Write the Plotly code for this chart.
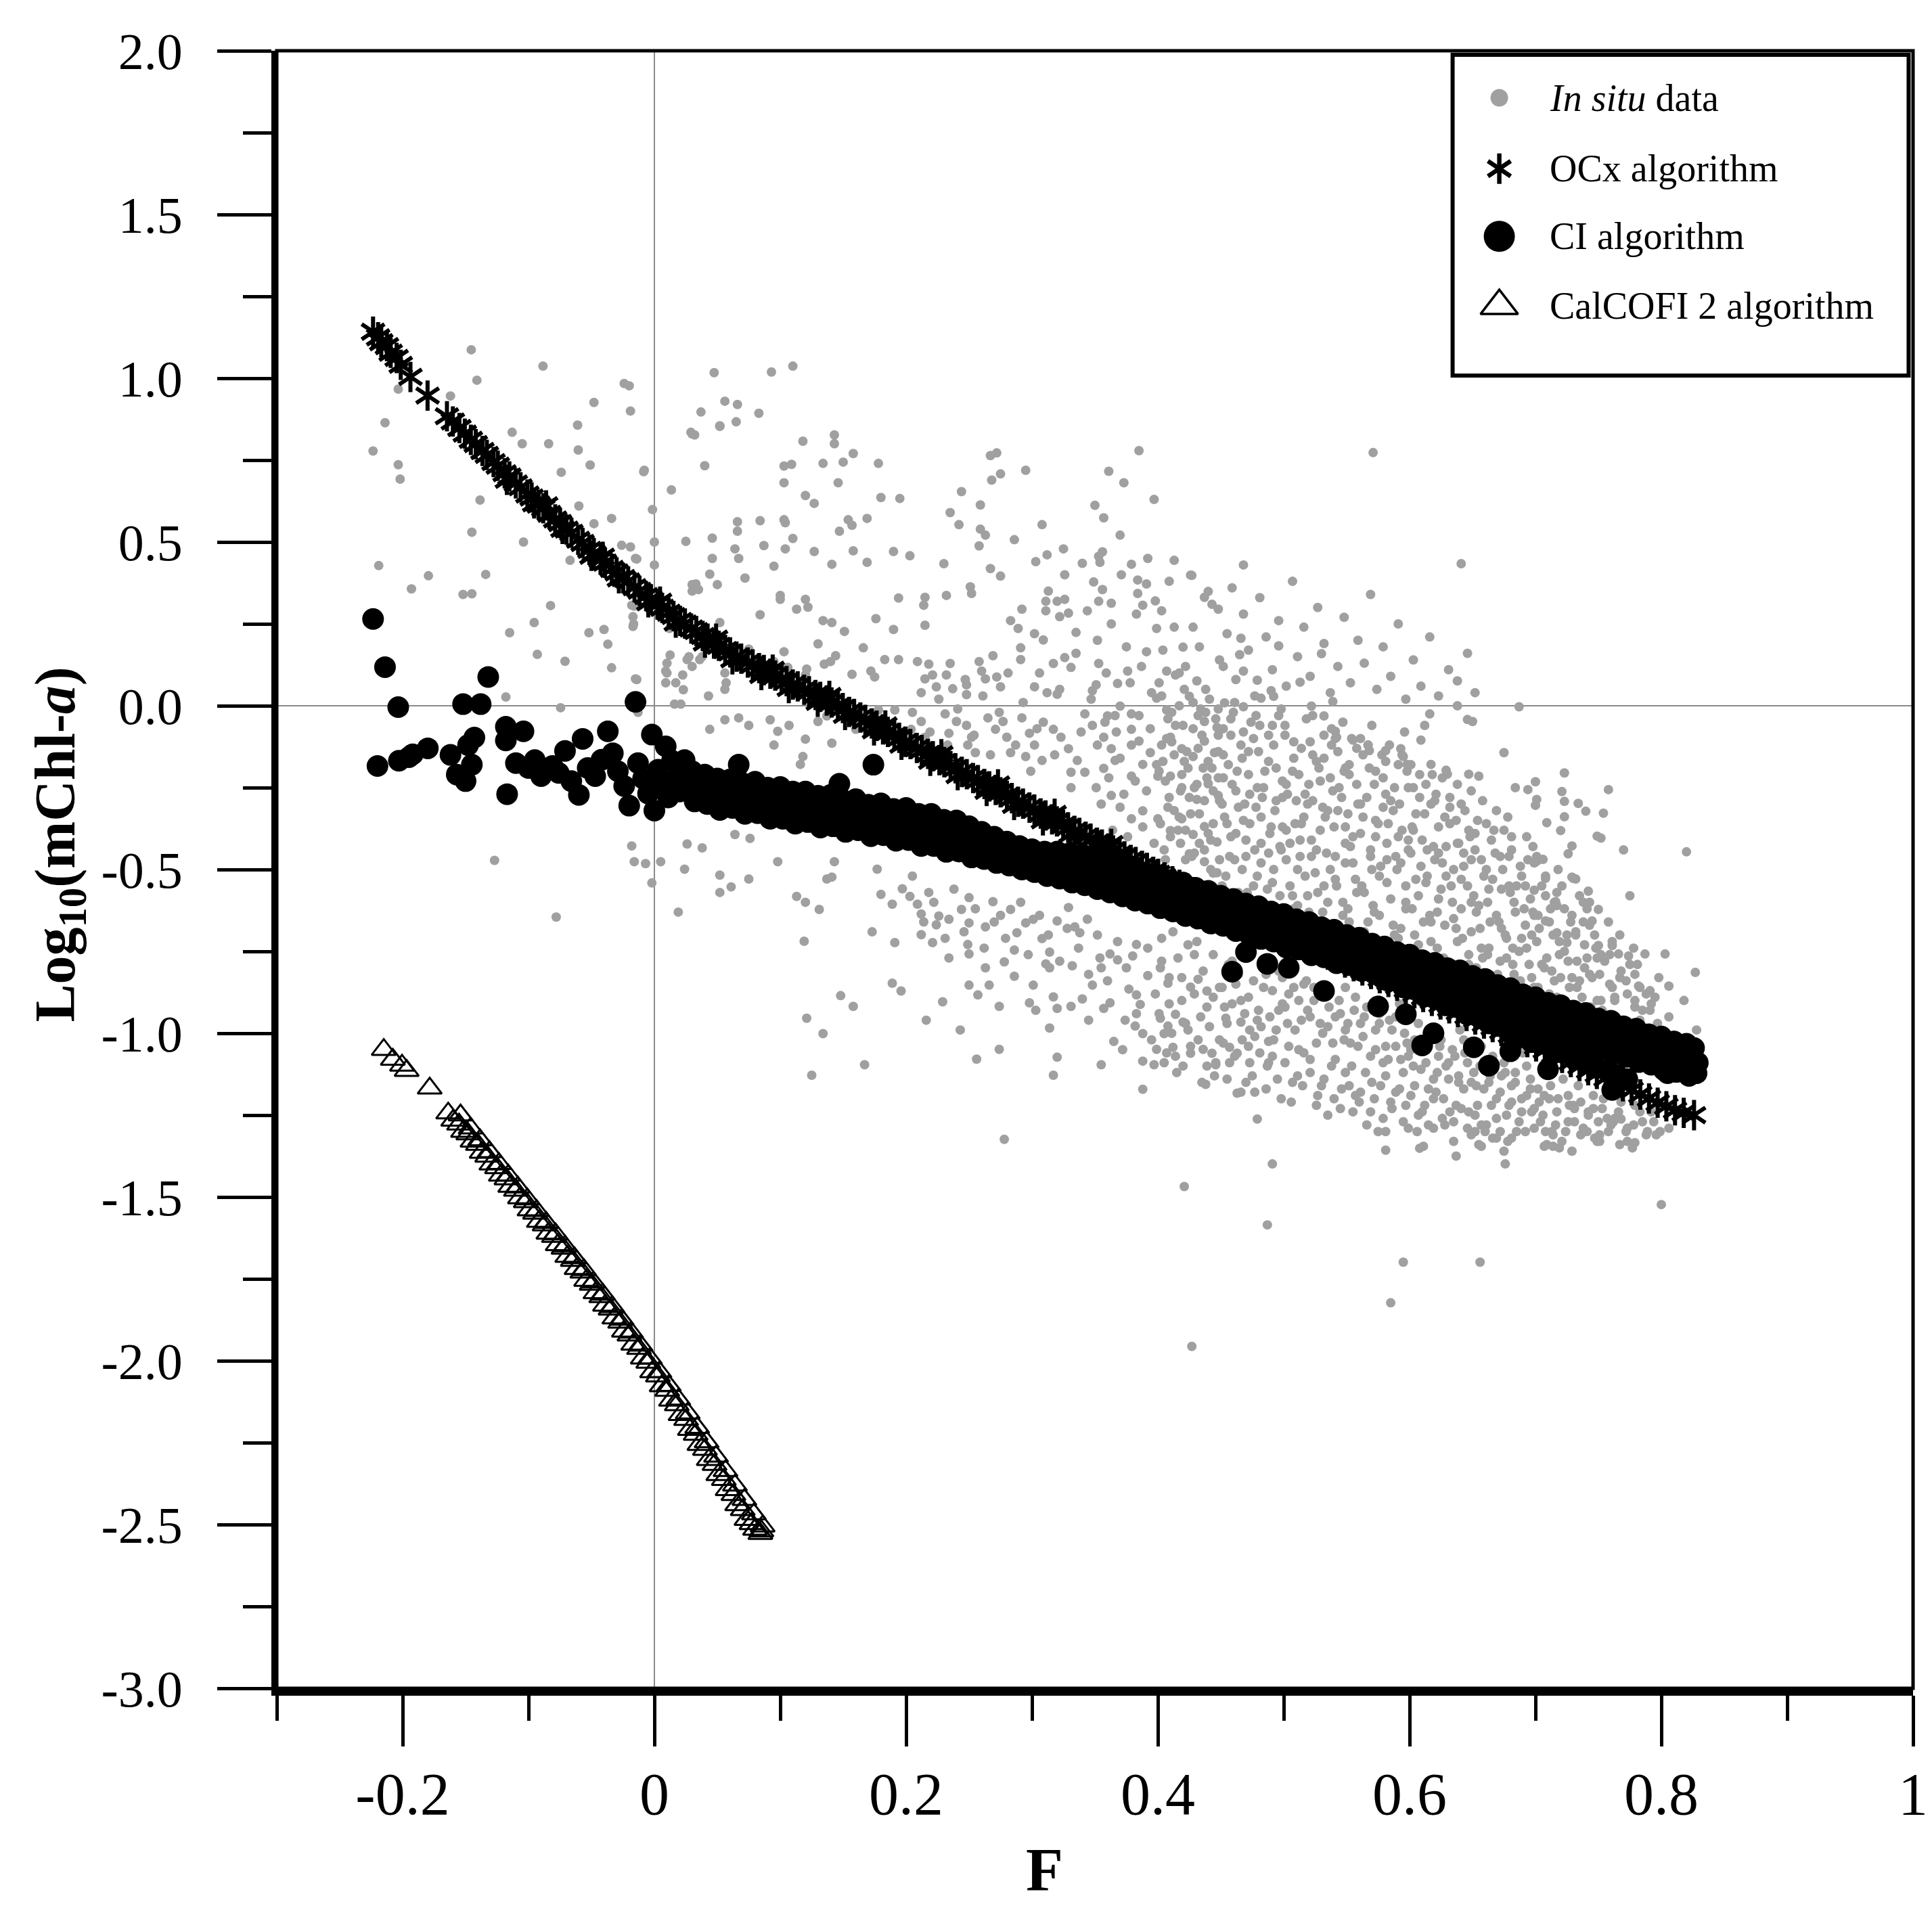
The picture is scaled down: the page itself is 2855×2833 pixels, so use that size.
import plotly.graph_objects as go

# ---------------- axes / ticks ----------------
X_RANGE = [-0.3, 1.0]
Y_RANGE = [-3.0, 2.0]
X_TICKS = [-0.2, 0.0, 0.2, 0.4, 0.6, 0.8, 1.0]
X_TICK_TEXT = ["-0.2", "0", "0.2", "0.4", "0.6", "0.8", "1"]
X_MINOR = [-0.3, -0.1, 0.1, 0.3, 0.5, 0.7, 0.9]
Y_TICKS = [-3.0, -2.5, -2.0, -1.5, -1.0, -0.5, 0.0, 0.5, 1.0, 1.5, 2.0]
Y_TICK_TEXT = ["-3.0", "-2.5", "-2.0", "-1.5", "-1.0", "-0.5", "0.0", "0.5", "1.0", "1.5", "2.0"]
Y_MINOR = [-2.75, -2.25, -1.75, -1.25, -0.75, -0.25, 0.25, 0.75, 1.25, 1.75]

SERIES_NAMES = ["<i>In situ</i> data", "OCx algorithm", "CI algorithm", "CalCOFI 2 algorithm"]
X_TITLE = "<b>F</b>"
Y_TITLE = "<b>Log<sub>10</sub>(mChl-<i>a</i>)</b>"

# ---------------- data: (F, log10 Chl) ----------------
INSITU_LEFT = [
(-0.1455,1.087),(-0.0885,1.037),(-0.141,0.994),(-0.2035,0.967),(-0.162,0.946),(-0.020,0.977),(-0.024,0.984),
(-0.048,0.926),(-0.019,0.900),(-0.214,0.864),(-0.061,0.857),(-0.113,0.835),(-0.105,0.800),(-0.084,0.800),
(-0.0605,0.781),(-0.2235,0.778),(-0.2035,0.736),(-0.051,0.735),(-0.202,0.692),(-0.074,0.713),(-0.0085,0.715),
(-0.1385,0.628),(-0.060,0.610),(-0.0015,0.599),(-0.034,0.572),(-0.048,0.556),(-0.145,0.530),(-0.104,0.500),
(0.000,0.500),(-0.026,0.490),(-0.067,0.444),(-0.014,0.448),(-0.219,0.428),(-0.1795,0.397),(-0.134,0.401),
(-0.193,0.357),(-0.152,0.340),(-0.145,0.342),(0.000,0.430),(-0.0825,0.306),(-0.016,0.304),(-0.0955,0.254),
(-0.052,0.223),(-0.040,0.233),(-0.0165,0.250),(-0.115,0.223),(-0.037,0.188),(-0.093,0.157),(-0.071,0.136),
(-0.034,0.116),(-0.014,0.080),(-0.118,0.027),(-0.0745,-0.006),(-0.013,-0.020),
(0.0475,1.017),(0.037,0.897),(0.052,0.853),(0.030,0.830),(0.056,0.930),(0.040,0.733),(0.0135,0.659),
(0.025,0.502),(0.046,0.512),(0.046,0.450),(0.050,0.370),(0.030,0.370),(0.030,0.350),(0.052,0.254),
(0.0125,0.155),(0.0275,0.150),(0.038,0.150),(0.010,0.130),(0.030,0.120),(0.010,0.100),(0.0225,0.094),
(0.056,0.100),(0.017,0.070),(0.056,0.050),(0.043,0.030),(-0.127,-0.472),(-0.078,-0.645),
]
INSITU_UPPER = [
(0.110,1.037),(0.093,1.019),(0.066,0.920),(0.083,0.893),(0.052,0.855),(0.065,0.867),(0.029,0.835),(0.032,0.827),
(-0.008,0.719),(0.118,0.808),(0.143,0.827),(0.143,0.800),(0.158,0.770),(0.134,0.740),(0.150,0.744),(0.103,0.732),
(0.109,0.737),(0.103,0.681),(0.146,0.681),(0.178,0.740),(0.120,0.642),(0.127,0.618),(0.180,0.636),(0.195,0.633),
(0.066,0.562),(0.066,0.533),(0.084,0.565),(0.103,0.568),(0.104,0.559),(0.154,0.568),(0.157,0.551),(0.147,0.533),
(0.169,0.572),(0.064,0.479),(0.087,0.489),(0.104,0.479),(0.110,0.511),(0.095,0.426),(0.067,0.450),(0.127,0.471),
(0.141,0.432),(0.158,0.473),(0.169,0.438),(0.190,0.471),(0.203,0.458),(0.230,0.434),(0.267,0.764),(0.272,0.772),
(0.295,0.719),(0.268,0.689),(0.275,0.708),(0.244,0.654),(0.259,0.613),(0.235,0.590),(0.242,0.553),(0.259,0.539),
(0.263,0.521),(0.258,0.488),(0.286,0.507),(0.308,0.553),(0.303,0.440),(0.312,0.461),(0.325,0.479),(0.361,0.716),
(0.373,0.681),(0.385,0.779),(0.397,0.630),(0.350,0.612),(0.357,0.574),(0.370,0.521),(0.340,0.435),(0.353,0.456),
(0.354,0.438),(0.379,0.432),(0.413,0.444),(0.426,0.399),(0.440,0.349),(0.437,0.331),(0.267,0.419),(0.275,0.396),
(0.251,0.363),(0.252,0.343),(0.232,0.337),(0.215,0.331),(0.214,0.307),(0.194,0.329),(0.176,0.266),(0.190,0.233),
(0.215,0.246),(0.151,0.227),(0.134,0.260),(0.141,0.254),(0.120,0.325),(0.122,0.301),(0.113,0.295),(0.100,0.337),
(0.100,0.325),(0.084,0.278),(0.033,0.372),(0.035,0.355),(0.044,0.402),(0.072,0.390),(-0.019,0.485),(-0.015,0.450),
(-0.018,0.307),(-0.017,0.272),(-0.017,0.242),(0.012,0.236),(0.026,0.141),(0.036,0.141),(0.009,0.106),(0.009,0.070),
(-0.015,0.082),(0.023,0.049),(0.016,0.005),(0.021,0.005),(0.057,0.070),(0.075,0.173),(0.103,0.165),(0.095,0.135),
(0.106,0.117),(0.120,0.094),(0.121,0.112),(0.130,0.189),(0.144,0.153),(0.140,0.135),(0.135,0.127),(0.166,0.177),
(0.157,0.096),(0.172,0.106),(0.175,0.088),(0.183,0.141),(0.194,0.141),(0.209,0.135),(0.218,0.127),(0.215,0.082),
(0.221,0.094),(0.224,0.058),(0.235,0.129),(0.232,0.094),(0.237,0.052),(0.248,0.064),(0.248,0.034),(0.258,0.135),
(0.260,0.106),(0.263,0.082),(0.269,0.153),(0.272,0.088),(0.275,0.058),(0.283,0.260),(0.289,0.236),(0.292,0.295),
(0.311,0.319),(0.311,0.290),(0.320,0.319),(0.326,0.325),(0.322,0.272),(0.329,0.283),(0.335,0.224),(0.309,0.201),
(0.291,0.177),(0.291,0.141),(0.317,0.129),(0.326,0.147),(0.331,0.117),(0.353,0.129),(0.302,0.058),(0.312,0.040),
(0.320,0.035),(0.348,0.046),(0.351,0.064),(0.368,0.068),(0.376,0.106),(0.349,0.378),(0.356,0.355),(0.353,0.319),
(0.363,0.313),(0.384,0.384),(0.391,0.372),(0.384,0.343),(0.388,0.307),(0.403,0.290),(0.399,0.236),(0.391,0.165),
(0.407,0.106),(0.414,0.094),(0.420,0.179),(0.431,0.076),(0.425,0.029),(0.399,0.023),(0.407,-0.013),(0.379,-0.025),
(0.360,-0.031),(0.370,-0.001),(0.434,-0.010),(0.448,-0.010),(0.437,-0.048),(0.447,-0.066),
(0.191,-0.013),(0.204,-0.072),(0.212,-0.048),(0.215,-0.096),(0.231,-0.025),(0.234,-0.084),(0.240,-0.048),
(0.248,-0.060),(0.252,-0.096),(0.255,-0.143),(0.249,-0.120),(0.265,-0.037),(0.271,-0.072),(0.277,-0.048),
(0.280,-0.096),(0.283,-0.143),(0.292,-0.037),(0.298,-0.084),(0.302,-0.120),(0.295,-0.155),(0.308,-0.167),
(0.317,-0.072),(0.323,-0.096),(0.329,-0.131),(0.336,-0.167),(0.331,-0.203),(0.342,-0.203),(0.342,-0.025),
(0.348,-0.060),(0.357,-0.096),(0.363,-0.131),(0.366,-0.167),(0.357,-0.191),(0.379,-0.072),(0.385,-0.108),
(0.394,-0.143),(0.388,-0.179),(0.400,-0.215),(0.379,-0.215),(0.410,-0.096),(0.419,-0.131),(0.428,-0.155),
(0.437,-0.108),(0.445,-0.143),(0.410,-0.215),(0.419,-0.250),(0.431,-0.286),(0.440,-0.238),(0.448,-0.274),
(0.351,-0.250),(0.363,-0.274),(0.370,-0.310),(0.379,-0.345),(0.388,-0.321),(0.400,-0.345),(0.410,-0.381),
(0.419,-0.345),(0.428,-0.393),(0.437,-0.369),(0.447,-0.416),(0.425,-0.452),(0.437,-0.476),(0.444,-0.511),
(-0.018,-0.428),(-0.016,-0.476),(-0.007,-0.482),(0.005,-0.476),(-0.002,-0.541),(0.026,-0.422),(0.038,-0.434),
(0.024,-0.499),(0.052,-0.517),(0.061,-0.553),(0.052,-0.570),(0.064,-0.393),(0.076,-0.405),(0.075,-0.529),
(0.098,-0.476),(0.113,-0.582),(0.120,-0.600),(0.143,-0.476),(0.137,-0.529),(0.141,-0.523),(0.177,-0.499),
(0.180,-0.576),(0.189,-0.606),(0.197,-0.559),(0.203,-0.582),(0.209,-0.606),(0.212,-0.636),(0.218,-0.570),
(0.226,-0.642),(0.019,-0.630),(0.118,-0.155),(0.116,-0.179),(0.056,-0.043),(0.067,-0.037),(0.075,-0.060),
(0.044,-0.072),(0.092,-0.043),(0.098,-0.078),(0.107,-0.060),(0.095,-0.120),(0.120,-0.102),(0.141,-0.114),
(0.130,-0.048),(0.137,-0.031),(0.178,-0.013),(0.160,-0.072),(0.171,-0.048),(0.194,-0.084),(0.198,-0.120),
]
INSITU_RIGHT = [
(0.571,0.773),(0.641,0.434),(0.468,0.430),(0.427,0.398),(0.448,0.295),(0.466,0.206),(0.465,0.156),(0.496,0.183),
(0.530,0.159),(0.452,0.120),(0.468,0.106),(0.479,0.078),(0.513,0.072),(0.490,0.046),(0.492,0.029),(0.482,0.023),
(0.453,0.009),(0.468,-0.003),(0.522,-0.001),(0.539,0.013),(0.638,0.076),(0.687,-0.003),(0.616,-0.025),(0.612,-0.060),
(0.609,-0.105),(0.646,-0.042),(0.650,-0.048),(0.675,-0.143),(0.532,-0.031),(0.541,-0.078),(0.542,-0.096),(0.555,-0.105),
(0.567,-0.120),(0.568,-0.137),(0.581,-0.137),(0.593,-0.131),(0.595,-0.155),(0.598,-0.179),(0.617,-0.179),(0.629,-0.197),
(0.630,-0.209),(0.647,-0.209),(0.655,-0.215),(0.723,-0.205),(0.684,-0.250),(0.694,-0.256),(0.700,-0.232),(0.758,-0.256),
(0.721,-0.262),(0.723,-0.292),(0.734,-0.298),(0.740,-0.322),(0.754,-0.328),(0.701,-0.286),(0.700,-0.304),(0.709,-0.357),
(0.723,-0.339),(0.720,-0.381),(0.749,-0.398),(0.752,-0.404),(0.729,-0.428),(0.726,-0.452),(0.770,-0.440),(0.820,-0.446),
(0.706,-0.469),(0.701,-0.475),(0.729,-0.523),(0.732,-0.529),(0.743,-0.600),(0.715,-0.600),(0.698,-0.630),
(0.775,-0.580),(0.827,-0.814),(0.806,-0.856),(0.782,-0.856),(0.803,-0.758),(0.787,-0.758),(0.774,-0.764),(0.761,-0.732),
(0.750,-0.732),(0.766,-0.758),(0.742,-0.566),(0.750,-0.622),(0.745,-0.657),(0.730,-0.527),(0.716,-0.598),(0.725,-0.723),
(0.717,-0.693),(0.708,-0.657),(0.708,-0.527),(0.699,-0.563),
]
INSITU_LOWER = [
(0.131,-0.622),(0.119,-0.719),(0.173,-0.690),(0.191,-0.723),(0.212,-0.699),(0.221,-0.723),(0.224,-0.669),(0.234,-0.652),
(0.234,-0.770),(0.244,-0.622),(0.250,-0.586),(0.250,-0.663),(0.249,-0.729),(0.250,-0.758),(0.263,-0.675),(0.263,-0.800),
(0.269,-0.598),(0.275,-0.640),(0.283,-0.622),(0.278,-0.782),(0.286,-0.746),(0.286,-0.826),(0.288,-0.693),(0.295,-0.663),
(0.301,-0.652),(0.301,-0.853),(0.298,-0.907),(0.303,-0.930),(0.308,-0.711),(0.314,-0.752),(0.311,-0.788),(0.314,-0.800),
(0.320,-0.657),(0.329,-0.616),(0.317,-0.889),(0.320,-0.924),(0.331,-0.918),(0.340,-0.895),(0.332,-0.794),(0.334,-0.675),
(0.338,-0.693),(0.344,-0.652),(0.348,-0.853),(0.354,-0.770),(0.355,-0.800),(0.362,-0.758),(0.368,-0.776),(0.357,-0.924),
(0.362,-0.907),(0.365,-1.025),(0.355,-1.096),(0.377,-0.865),(0.383,-0.883),(0.386,-0.912),(0.374,-0.960),(0.382,-0.978),
(0.388,-1.001),(0.380,-0.764),(0.383,-0.729),(0.392,-0.824),(0.402,-0.800),(0.388,-1.085),(0.397,-1.096),(0.405,-1.090),
(0.399,-1.049),(0.412,-1.043),(0.388,-1.171),(0.402,-0.954),(0.408,-0.978),(0.405,-1.001),(0.414,-0.942),(0.420,-0.966),
(0.408,-0.847),(0.426,-0.859),(0.432,-0.835),(0.439,-0.871),(0.426,-1.061),(0.436,-1.049),(0.443,-1.061),(0.420,-1.100),
(0.446,-1.096),(0.445,-1.130),(0.438,-1.156),(0.463,-1.183),(0.457,-1.043),(0.463,-1.061),(0.454,-0.954),(0.466,-0.966),
(0.473,-0.990),(0.473,-1.090),(0.479,-1.262),(0.488,-1.025),(0.488,-1.090),(0.491,-1.399),(0.421,-1.468),(0.487,-1.585),
(0.427,-1.956),(0.278,-1.324),(0.256,-1.079),(0.274,-1.049),(0.243,-0.990),(0.216,-0.960),(0.314,-0.984),(0.320,-1.073),
(0.317,-1.128),(0.229,-0.904),(0.250,-0.853),(0.257,-0.883),(0.266,-0.853),(0.274,-0.918),(0.189,-0.847),(0.196,-0.871),
(0.148,-0.885),(0.158,-0.918),(0.121,-0.954),(0.134,-1.001),(0.167,-1.096),(0.125,-1.128),
(0.595,-1.699),(0.656,-1.699),(0.585,-1.823),(0.800,-1.523),(0.676,-1.399),(0.637,-1.375),(0.608,-1.351),(0.611,-1.345),
(0.581,-1.357),(0.581,-1.300),(0.652,-1.300),(0.657,-1.345),(0.707,-1.345),(0.714,-1.345),(0.713,-1.300),(0.751,-1.310),
(0.779,-1.334),(0.768,-1.262),(0.750,-1.270),
]
INSITU_CORE = [
(0.352,-0.12),(0.355,-0.30),(0.358,-0.05),(0.361,-0.22),(0.364,-0.38),(0.367,-0.08),(0.370,-0.16),(0.373,-0.27),
(0.376,-0.40),(0.379,-0.12),(0.382,-0.23),(0.385,-0.03),(0.388,-0.37),(0.391,-0.26),(0.394,-0.07),(0.397,-0.42),(0.399,-0.18),
(0.401,-0.20),(0.403,0.03),(0.405,-0.44),(0.407,-0.10),(0.408,-0.31),(0.411,-0.02),(0.413,-0.15),(0.416,-0.38),
(0.418,-0.26),(0.420,-0.06),(0.422,-0.47),(0.424,-0.19),(0.426,-0.33),(0.428,0.01),(0.431,-0.24),(0.433,-0.42),
(0.435,-0.09),(0.437,-0.29),(0.440,-0.17),(0.442,-0.50),(0.444,-0.36),(0.446,-0.04),(0.448,-0.22),
(0.451,-0.30),(0.452,-0.07),(0.454,-0.52),(0.456,-0.18),(0.458,-0.40),(0.460,-0.02),(0.462,-0.26),(0.464,-0.57),
(0.466,-0.12),(0.468,-0.35),(0.470,-0.46),(0.472,-0.21),(0.474,-0.05),(0.476,-0.55),(0.478,-0.31),(0.480,-0.14),
(0.482,-0.42),(0.484,-0.25),(0.486,-0.61),(0.488,-0.09),(0.490,-0.37),(0.492,-0.50),(0.494,-0.19),(0.496,-0.03),
(0.498,-0.44),(0.499,-0.28),
(0.451,-0.86),(0.455,-0.97),(0.459,-0.78),(0.466,-0.90),(0.470,-1.15),(0.477,-1.01),(0.480,-0.93),(0.484,-0.79),
(0.487,-1.10),(0.491,-0.87),(0.494,-0.99),(0.498,-1.20),(0.499,-0.83),
(0.501,-0.06),(0.502,-0.38),(0.505,-0.55),(0.507,-0.20),(0.508,-0.62),(0.510,-0.29),(0.513,-0.46),(0.514,-0.13),
(0.516,-0.34),(0.519,-0.58),(0.520,-0.24),(0.522,-0.41),(0.523,-0.03),(0.525,-0.51),(0.526,-0.17),(0.529,-0.66),
(0.531,-0.31),(0.532,-0.09),(0.534,-0.45),(0.535,-0.60),(0.537,-0.22),(0.540,-0.37),(0.541,-0.53),(0.543,-0.14),
(0.544,-0.68),(0.546,-0.28),(0.547,-0.05),(0.549,-0.48),(0.549,-0.19),
(0.501,-0.92),(0.504,-1.04),(0.508,-0.86),(0.511,-1.13),(0.514,-0.96),(0.518,-0.84),(0.521,-1.08),(0.524,-0.90),
(0.527,-1.19),(0.531,-1.00),(0.534,-0.88),(0.538,-1.10),(0.541,-0.95),(0.545,-1.23),(0.548,-1.02),(0.549,-0.86),
(0.551,-0.33),(0.552,-0.66),(0.554,-0.10),(0.555,-0.48),(0.558,-0.24),(0.560,-0.71),(0.561,-0.39),(0.563,-0.15),
(0.564,-0.57),(0.566,-0.28),(0.569,-0.44),(0.570,-0.06),(0.572,-0.63),(0.573,-0.20),(0.575,-0.36),(0.576,-0.52),
(0.579,-0.74),(0.581,-0.27),(0.582,-0.42),(0.584,-0.12),(0.585,-0.59),(0.587,-0.32),(0.590,-0.50),(0.591,-0.18),
(0.593,-0.68),(0.594,-0.38),(0.596,-0.08),(0.597,-0.55),(0.599,-0.25),(0.599,-0.77),
(0.551,-0.97),(0.554,-1.10),(0.557,-0.89),(0.560,-1.21),(0.563,-1.01),(0.566,-0.92),(0.570,-1.15),(0.573,-1.05),
(0.576,-0.94),(0.579,-1.26),(0.583,-1.08),(0.586,-0.99),(0.589,-1.18),(0.592,-0.91),(0.595,-1.12),(0.598,-1.03),(0.599,-1.29),
(0.601,-0.45),(0.603,-0.25),(0.604,-0.70),(0.605,-0.33),(0.607,-0.58),(0.610,-0.41),(0.611,-0.78),(0.613,-0.24),
(0.614,-0.52),(0.616,-0.64),(0.617,-0.30),(0.620,-0.47),(0.622,-0.74),(0.623,-0.37),(0.625,-0.56),(0.626,-0.22),
(0.628,-0.67),(0.629,-0.43),(0.631,-0.81),(0.632,-0.28),(0.634,-0.60),(0.635,-0.50),(0.637,-0.35),(0.638,-0.72),
(0.641,-0.62),(0.643,-0.45),(0.644,-0.83),(0.646,-0.55),(0.647,-0.38),(0.649,-0.69),(0.649,-0.26),
(0.601,-1.05),(0.604,-1.16),(0.607,-0.97),(0.610,-1.24),(0.613,-1.09),(0.616,-0.99),(0.619,-1.20),(0.622,-1.12),
(0.625,-1.02),(0.628,-1.28),(0.631,-1.14),(0.634,-1.05),(0.637,-1.22),(0.640,-0.99),(0.643,-1.17),(0.646,-1.09),(0.649,-1.31),
(0.651,-0.58),(0.653,-0.80),(0.654,-0.35),(0.656,-0.68),(0.657,-0.47),(0.659,-0.85),(0.662,-0.60),(0.663,-0.74),
(0.665,-0.41),(0.666,-0.53),(0.668,-0.87),(0.669,-0.32),(0.671,-0.66),(0.672,-0.78),(0.674,-0.50),(0.675,-0.38),
(0.677,-0.71),(0.678,-0.89),(0.680,-0.57),(0.681,-0.44),(0.683,-0.82),(0.684,-0.63),(0.687,-0.75),(0.689,-0.52),
(0.690,-0.86),(0.692,-0.67),(0.693,-0.40),(0.695,-0.79),(0.696,-0.59),(0.698,-0.92),(0.699,-0.48),
(0.651,-1.12),(0.654,-1.22),(0.657,-1.04),(0.660,-1.30),(0.663,-1.15),(0.666,-1.07),(0.669,-1.26),(0.672,-1.18),
(0.675,-1.09),(0.678,-1.33),(0.681,-1.21),(0.684,-1.12),(0.687,-1.27),(0.690,-1.06),(0.693,-1.19),(0.696,-1.14),(0.699,-1.29),
(0.701,-0.72),(0.703,-0.88),(0.705,-0.55),(0.707,-0.80),(0.711,-0.66),(0.715,-0.84),(0.717,-0.61),(0.719,-0.76),
(0.721,-0.92),(0.725,-0.70),(0.727,-0.86),(0.729,-0.64),(0.733,-0.78),(0.735,-0.58),(0.737,-0.89),(0.739,-0.73),
(0.743,-0.67),(0.745,-0.83),(0.749,-0.77),
(0.702,-1.17),(0.706,-1.25),(0.710,-1.12),(0.714,-1.31),(0.718,-1.20),(0.722,-1.14),(0.726,-1.27),(0.730,-1.22),
(0.734,-1.16),(0.738,-1.29),(0.742,-1.24),(0.746,-1.19),(0.749,-1.33),
(0.752,-0.90),(0.755,-0.78),(0.761,-0.86),(0.764,-0.95),(0.767,-0.70),(0.773,-0.88),(0.776,-0.98),(0.779,-0.82),
(0.785,-0.93),(0.791,-0.87),(0.797,-0.97),
(0.753,-1.23),(0.758,-1.30),(0.763,-1.26),(0.768,-1.21),(0.773,-1.33),(0.778,-1.28),(0.783,-1.24),(0.788,-1.31),
(0.794,-1.27),(0.798,-1.22),(0.806,-0.95),(0.818,-0.90),(0.828,-0.99),(0.806,-1.29),(0.812,-1.24),
]
INSITU_CORE2 = [
(0.401,0.07),(0.408,-0.04),(0.404,-0.17),(0.409,-0.28),(0.402,-0.36),(0.406,-0.47),(0.403,-0.71),(0.409,-0.83),(0.401,-0.94),(0.407,-1.06),
(0.417,0.00),(0.411,-0.11),(0.419,-0.21),(0.413,-0.32),(0.418,-0.42),(0.412,-0.69),(0.416,-0.77),(0.419,-0.90),(0.411,-1.00),(0.415,-1.12),
(0.421,0.05),(0.428,-0.07),(0.423,-0.14),(0.429,-0.25),(0.422,-0.38),(0.427,-0.46),(0.424,-0.73),(0.429,-0.88),(0.422,-0.97),(0.426,-1.04),
(0.438,-0.02),(0.432,-0.13),(0.439,-0.22),(0.433,-0.33),(0.437,-0.44),(0.431,-0.72),(0.436,-0.81),(0.439,-0.92),(0.432,-1.02),(0.435,-1.15),
(0.441,0.02),(0.448,-0.09),(0.443,-0.19),(0.449,-0.29),(0.442,-0.41),(0.447,-0.51),(0.444,-0.76),(0.449,-0.86),(0.441,-0.98),(0.446,-1.09),
(0.458,-0.04),(0.452,-0.15),(0.459,-0.24),(0.453,-0.34),(0.457,-0.46),(0.451,-0.55),(0.456,-0.79),(0.459,-0.91),(0.452,-1.03),(0.455,-1.14),
(0.461,0.01),(0.468,-0.08),(0.463,-0.20),(0.469,-0.30),(0.462,-0.39),(0.467,-0.50),(0.464,-0.82),(0.469,-0.94),(0.461,-1.07),(0.466,-1.18),
(0.478,-0.03),(0.472,-0.14),(0.479,-0.25),(0.473,-0.36),(0.477,-0.44),(0.471,-0.57),(0.476,-0.84),(0.479,-0.96),(0.472,-1.04),(0.475,-1.13),
(0.481,-0.06),(0.488,-0.17),(0.483,-0.28),(0.489,-0.39),(0.482,-0.48),(0.487,-0.56),(0.484,-0.86),(0.489,-0.95),(0.481,-1.06),(0.486,-1.17),
(0.498,-0.01),(0.492,-0.12),(0.499,-0.23),(0.493,-0.32),(0.497,-0.43),(0.491,-0.54),(0.496,-0.81),(0.499,-0.91),(0.492,-1.02),(0.495,-1.14),
(0.501,-0.09),(0.508,-0.16),(0.503,-0.27),(0.509,-0.36),(0.502,-0.47),(0.507,-0.58),(0.504,-0.88),(0.509,-0.99),(0.501,-1.09),(0.506,-1.21),
(0.518,-0.04),(0.512,-0.21),(0.519,-0.30),(0.513,-0.41),(0.517,-0.52),(0.511,-0.61),(0.516,-0.85),(0.519,-0.93),(0.512,-1.05),(0.515,-1.16),
(0.521,-0.11),(0.528,-0.19),(0.523,-0.29),(0.529,-0.38),(0.522,-0.46),(0.527,-0.57),(0.524,-0.86),(0.529,-0.97),(0.521,-1.12),(0.526,-1.22),
(0.538,-0.07),(0.532,-0.16),(0.539,-0.26),(0.533,-0.34),(0.537,-0.50),(0.531,-0.63),(0.536,-0.92),(0.539,-1.03),(0.532,-1.14),(0.535,-1.25),
(0.541,-0.10),(0.548,-0.20),(0.543,-0.32),(0.549,-0.42),(0.542,-0.55),(0.547,-0.64),(0.544,-0.90),(0.549,-0.99),(0.541,-1.08),(0.546,-1.17),
(0.558,-0.13),(0.552,-0.21),(0.559,-0.30),(0.553,-0.43),(0.557,-0.53),(0.551,-0.62),(0.556,-0.93),(0.559,-1.04),(0.552,-1.16),(0.555,-1.24),
(0.561,-0.10),(0.568,-0.19),(0.563,-0.34),(0.569,-0.46),(0.562,-0.55),(0.567,-0.66),(0.564,-0.95),(0.569,-1.07),(0.561,-1.18),(0.566,-1.28),
(0.578,-0.15),(0.572,-0.24),(0.579,-0.31),(0.573,-0.40),(0.577,-0.49),(0.571,-0.61),(0.576,-0.97),(0.579,-1.09),(0.572,-1.20),(0.575,-1.30),
(0.581,-0.17),(0.588,-0.25),(0.583,-0.36),(0.589,-0.46),(0.582,-0.54),(0.587,-0.67),(0.584,-0.96),(0.589,-1.04),(0.581,-1.13),(0.586,-1.23),
(0.598,-0.20),(0.592,-0.30),(0.599,-0.41),(0.593,-0.48),(0.597,-0.60),(0.591,-0.71),(0.596,-1.00),(0.599,-1.07),(0.592,-1.17),(0.595,-1.27),
(0.601,-0.18),(0.608,-0.28),(0.603,-0.38),(0.609,-0.49),(0.602,-0.62),(0.607,-0.73),(0.604,-1.02),(0.609,-1.11),(0.601,-1.19),(0.606,-1.30),
(0.618,-0.21),(0.612,-0.33),(0.619,-0.43),(0.613,-0.54),(0.617,-0.66),(0.611,-0.76),(0.616,-1.00),(0.619,-1.14),(0.612,-1.22),(0.615,-1.28),
(0.621,-0.27),(0.628,-0.34),(0.623,-0.45),(0.629,-0.52),(0.622,-0.63),(0.627,-0.77),(0.624,-1.04),(0.629,-1.10),(0.621,-1.18),(0.626,-1.26),
(0.638,-0.24),(0.632,-0.31),(0.639,-0.42),(0.633,-0.55),(0.637,-0.68),(0.631,-0.79),(0.636,-1.07),(0.639,-1.13),(0.632,-1.24),(0.635,-1.33),
(0.641,-0.30),(0.648,-0.40),(0.643,-0.49),(0.649,-0.60),(0.642,-0.71),(0.647,-0.79),(0.644,-1.06),(0.649,-1.15),(0.641,-1.23),(0.646,-1.29),
(0.658,-0.29),(0.652,-0.39),(0.659,-0.52),(0.653,-0.63),(0.657,-0.74),(0.651,-0.82),(0.656,-1.10),(0.659,-1.17),(0.652,-1.25),(0.655,-1.34),
(0.661,-0.36),(0.668,-0.45),(0.663,-0.56),(0.669,-0.64),(0.662,-0.76),(0.667,-0.84),(0.664,-1.13),(0.669,-1.20),(0.661,-1.28),(0.666,-1.32),
(0.678,-0.34),(0.672,-0.46),(0.679,-0.55),(0.673,-0.68),(0.677,-0.77),(0.671,-0.86),(0.676,-1.12),(0.679,-1.22),(0.672,-1.30),(0.675,-1.36),
(0.681,-0.40),(0.688,-0.49),(0.683,-0.60),(0.689,-0.71),(0.682,-0.79),(0.687,-0.88),(0.684,-1.15),(0.689,-1.24),(0.681,-1.32),
(0.698,-0.43),(0.692,-0.55),(0.699,-0.64),(0.693,-0.74),(0.697,-0.83),(0.691,-0.90),(0.696,-1.17),(0.699,-1.23),(0.692,-1.30),
(0.701,-0.46),(0.708,-0.58),(0.703,-0.68),(0.709,-0.77),(0.702,-0.86),(0.707,-1.19),(0.704,-1.27),(0.709,-1.34),
(0.718,-0.50),(0.712,-0.62),(0.719,-0.72),(0.713,-0.81),(0.717,-0.89),(0.711,-1.20),(0.716,-1.28),(0.719,-1.35),
(0.721,-0.55),(0.728,-0.66),(0.723,-0.75),(0.729,-0.83),(0.722,-0.91),(0.727,-1.22),(0.724,-1.30),(0.729,-1.36),
(0.738,-0.60),(0.732,-0.69),(0.739,-0.80),(0.733,-0.86),(0.737,-0.93),(0.731,-1.23),(0.736,-1.31),
(0.741,-0.62),(0.748,-0.74),(0.743,-0.82),(0.749,-0.90),(0.742,-1.25),(0.747,-1.32),
(0.758,-0.66),(0.752,-0.76),(0.759,-0.85),(0.753,-0.93),(0.757,-1.26),(0.751,-1.33),
(0.761,-0.72),(0.768,-0.81),(0.763,-0.89),(0.769,-0.96),(0.762,-1.27),(0.767,-1.34),
(0.778,-0.74),(0.772,-0.84),(0.779,-0.92),(0.773,-1.29),(0.777,-1.35),
(0.781,-0.79),(0.788,-0.88),(0.783,-0.96),(0.789,-1.30),
(0.798,-0.83),(0.792,-0.91),(0.796,-1.31),
]
INSITU_CORE3 = [
(0.422,0.12),(0.428,0.24),(0.433,0.18),(0.438,0.05),(0.443,0.31),(0.449,0.14),(0.455,0.22),(0.459,0.36),(0.462,0.08),
(0.468,0.28),(0.472,0.17),(0.477,0.03),(0.481,0.33),(0.486,0.21),(0.491,0.11),(0.496,0.26),(0.502,0.06),(0.507,0.38),
(0.511,0.15),(0.516,0.24),(0.521,0.09),(0.527,0.30),(0.532,0.19),(0.537,0.04),(0.543,0.12),(0.548,0.27),(0.553,0.07),
(0.559,0.20),(0.564,0.13),(0.569,0.34),(0.574,0.05),(0.579,0.18),(0.585,0.09),(0.591,0.25),(0.597,0.02),(0.603,0.14),
(0.609,0.06),(0.616,0.21),(0.623,0.03),(0.631,0.11),(0.638,0.00),(0.646,0.16),(0.652,0.04),
(0.302,0.22),(0.306,0.10),(0.309,-0.05),(0.313,0.35),(0.318,-0.15),(0.322,0.05),(0.326,0.40),(0.331,-0.25),(0.335,0.16),
(0.339,-0.08),(0.344,0.29),(0.347,0.02),(0.352,0.20),(0.356,0.47),(0.359,0.10),(0.363,0.25),(0.366,-0.03),(0.371,0.40),
(0.375,0.18),(0.378,0.07),(0.383,0.28),(0.387,0.12),(0.392,0.45),(0.395,0.04),(0.398,0.32),(0.404,0.17),(0.409,0.38),
(0.413,0.24),(0.417,0.10),
(0.403,-0.12),(0.406,-0.23),(0.410,-0.40),(0.414,-0.06),(0.417,-0.34),(0.421,-0.17),(0.425,-0.28),(0.429,-0.45),(0.432,-0.03),
(0.436,-0.19),(0.440,-0.39),(0.444,-0.26),(0.448,-0.14),(0.449,-0.47),
(0.452,-0.22),(0.455,-0.36),(0.458,-0.09),(0.461,-0.47),(0.464,-0.31),(0.467,-0.16),(0.470,-0.41),(0.473,-0.27),(0.476,-0.10),
(0.479,-0.52),(0.482,-0.34),(0.485,-0.20),(0.488,-0.45),(0.491,-0.06),(0.494,-0.29),(0.497,-0.58),(0.499,-0.37),
(0.502,-0.24),(0.505,-0.42),(0.508,-0.11),(0.511,-0.50),(0.514,-0.36),(0.517,-0.27),(0.520,-0.63),(0.523,-0.15),(0.526,-0.44),
(0.529,-0.23),(0.532,-0.55),(0.535,-0.32),(0.538,-0.12),(0.541,-0.46),(0.544,-0.25),(0.547,-0.60),(0.549,-0.37),
(0.552,-0.18),(0.555,-0.40),(0.558,-0.57),(0.561,-0.30),(0.564,-0.69),(0.567,-0.12),(0.570,-0.50),(0.573,-0.35),(0.576,-0.64),
(0.579,-0.22),(0.582,-0.47),(0.585,-0.29),(0.588,-0.70),(0.591,-0.40),(0.594,-0.15),(0.597,-0.62),(0.599,-0.44),
(0.602,-0.37),(0.605,-0.53),(0.608,-0.21),(0.611,-0.66),(0.614,-0.44),(0.617,-0.72),(0.620,-0.29),(0.623,-0.59),(0.626,-0.48),
(0.629,-0.78),(0.632,-0.36),(0.635,-0.65),(0.638,-0.42),(0.641,-0.53),(0.644,-0.32),(0.647,-0.76),(0.649,-0.47),
(0.652,-0.44),(0.655,-0.61),(0.658,-0.77),(0.661,-0.50),(0.664,-0.66),(0.667,-0.38),(0.670,-0.82),(0.673,-0.56),(0.676,-0.70),
(0.679,-0.46),(0.682,-0.74),(0.685,-0.55),(0.688,-0.84),(0.691,-0.62),(0.694,-0.47),(0.697,-0.70),(0.699,-0.86),
(0.702,-0.64),(0.705,-0.79),(0.708,-0.52),(0.711,-0.88),(0.714,-0.70),(0.717,-0.57),(0.720,-0.83),(0.723,-0.62),(0.726,-0.78),
(0.729,-0.92),(0.732,-0.70),(0.735,-0.84),(0.738,-0.66),(0.741,-0.77),(0.744,-0.92),(0.747,-0.70),
(0.751,-0.82),(0.755,-0.95),(0.759,-0.76),(0.763,-0.90),(0.767,-0.83),(0.771,-0.97),(0.775,-0.79),(0.779,-0.90),(0.783,-0.86),
(0.787,-0.99),(0.791,-0.93),(0.795,-0.89),
(0.403,-0.78),(0.409,-0.91),(0.414,-1.07),(0.419,-0.83),(0.424,-0.99),(0.429,-0.76),(0.434,-0.95),(0.439,-1.10),(0.444,-0.89),(0.449,-1.02),
(0.453,-0.92),(0.457,-1.09),(0.462,-0.85),(0.467,-1.02),(0.472,-0.89),(0.477,-1.18),(0.482,-0.98),(0.486,-0.82),(0.491,-1.07),(0.496,-0.93),
(0.503,-0.97),(0.507,-1.15),(0.512,-0.90),(0.516,-1.06),(0.521,-0.95),(0.526,-1.03),(0.530,-1.16),(0.535,-0.98),(0.540,-1.20),(0.545,-0.94),(0.549,-1.12),
(0.553,-1.03),(0.557,-1.19),(0.561,-0.97),(0.565,-1.12),(0.569,-1.24),(0.573,-0.99),(0.577,-1.16),(0.581,-1.04),(0.585,-1.21),(0.589,-0.95),(0.593,-1.08),(0.597,-1.22),
(0.603,-1.10),(0.607,-1.25),(0.611,-1.04),(0.615,-1.17),(0.619,-1.29),(0.623,-1.07),(0.627,-1.20),(0.631,-1.09),(0.635,-1.27),(0.639,-1.15),(0.643,-1.02),(0.647,-1.24),
(0.653,-1.16),(0.657,-1.28),(0.661,-1.10),(0.665,-1.22),(0.669,-1.32),(0.673,-1.13),(0.677,-1.25),(0.681,-1.16),(0.685,-1.30),(0.689,-1.20),(0.693,-1.10),(0.697,-1.24),
(0.703,-1.21),(0.708,-1.30),(0.712,-1.16),(0.717,-1.24),(0.721,-1.33),(0.726,-1.19),(0.731,-1.27),(0.736,-1.21),(0.741,-1.30),(0.746,-1.23),
(0.754,-1.20),(0.760,-1.28),(0.766,-1.24),(0.772,-1.30),(0.779,-1.22),(0.785,-1.27),(0.792,-1.24),(0.799,-1.30),
(0.205,-0.52),(0.214,-0.66),(0.222,-0.60),(0.231,-0.71),(0.238,-0.56),(0.246,-0.69),(0.255,-0.62),(0.262,-0.74),(0.270,-0.66),
(0.279,-0.71),(0.291,-0.60),(0.297,-0.76),(0.306,-0.64),(0.313,-0.70),(0.322,-0.78),(0.328,-0.68),(0.337,-0.74),(0.345,-0.82),
(0.352,-0.70),(0.360,-0.84),(0.368,-0.72),(0.375,-0.80),(0.383,-0.94),(0.392,-0.74),(0.398,-0.88),(0.345,-0.96),(0.372,-1.05),(0.395,-1.02),
(0.205,-0.02),(0.212,0.04),(0.219,-0.08),(0.226,0.02),(0.233,-0.12),(0.241,-0.01),(0.247,0.08),(0.254,-0.09),(0.261,0.03),
(0.267,-0.15),(0.274,-0.02),(0.281,0.10),(0.287,-0.12),(0.293,0.01),(0.299,-0.20),(0.304,-0.07),
]

OCX = [
(-0.2235,1.142),(-0.2195,1.125),(-0.2170,1.110),(-0.2125,1.098),(-0.2095,1.078),(-0.2048,1.062),(-0.2015,1.041),
(-0.1938,1.004),(-0.1802,0.947),(-0.1648,0.884),(-0.1601,0.868),(-0.1549,0.848),(-0.1506,0.831),(-0.1458,0.812),
(-0.1419,0.799),(-0.1366,0.778),(-0.1331,0.766),(-0.1278,0.744),(-0.1244,0.733),(-0.1190,0.710),(-0.1152,0.700),
(-0.1101,0.679),(-0.1063,0.667),(-0.1009,0.645),(-0.0975,0.636),(-0.0920,0.614),(-0.0883,0.603),(-0.0835,0.586),
(-0.0788,0.569),(-0.0749,0.558),(-0.0698,0.538),(-0.0659,0.528),(-0.0606,0.507),(-0.0570,0.497),(-0.0517,0.476),
(-0.0481,0.466),(-0.0428,0.446),(-0.0392,0.437),(-0.0338,0.418),(-0.0300,0.407),(-0.0247,0.390),(-0.0208,0.380),
(-0.0158,0.362),(-0.0118,0.351),(-0.0066,0.335),(-0.0027,0.325),(0.0024,0.309),(0.0062,0.299),(0.0114,0.284),
(0.0152,0.274),(0.0205,0.259),(0.0243,0.251),(0.0293,0.236),(0.0333,0.228),(0.0384,0.213),(0.0423,0.205),
(0.0473,0.190),(0.0512,0.183),(0.0563,0.170),(0.0602,0.163),(0.0653,0.150),(0.0690,0.144),(0.0742,0.132),
(0.0781,0.126),(0.0832,0.115),(0.0870,0.109),(0.0921,0.098),(0.0960,0.092),(0.1011,0.081),(0.1050,0.075),
(0.1100,0.065),(0.1139,0.059),(0.1190,0.049),(0.1229,0.044),(0.1280,0.033),(0.1318,0.027),(0.1369,0.016),
(0.1408,0.010),(0.1458,-0.001),(0.1497,-0.007),(0.1548,-0.019),(0.1587,-0.025),(0.1637,-0.036),(0.1676,-0.043),
(0.1727,-0.054),(0.1766,-0.061),(0.1816,-0.072),(0.1855,-0.080),(0.1906,-0.091),(0.1945,-0.098),(0.1995,-0.110),
(0.2034,-0.117),(0.2085,-0.129),(0.2124,-0.135),(0.2174,-0.147),(0.2213,-0.154),(0.2264,-0.166),(0.2303,-0.172),
(0.2353,-0.184),(0.2392,-0.191),(0.2443,-0.202),(0.2482,-0.209),(0.2532,-0.221),(0.2571,-0.227),(0.2622,-0.239),
(0.2661,-0.246),(0.2711,-0.257),(0.2750,-0.264),(0.2801,-0.275),(0.2840,-0.282),(0.2890,-0.293),(0.2929,-0.299),
(0.2980,-0.311),(0.3019,-0.317),(0.3069,-0.329),(0.3108,-0.335),(0.3159,-0.347),(0.3198,-0.353),(0.3248,-0.364),
(0.3287,-0.371),(0.3338,-0.382),(0.3377,-0.388),(0.3427,-0.400),(0.3466,-0.406),(0.3517,-0.418),(0.3556,-0.424),
(0.3606,-0.436),(0.3645,-0.442),(0.3696,-0.453),(0.3735,-0.460),(0.3785,-0.471),(0.3824,-0.477),(0.3875,-0.489),
(0.3914,-0.495),(0.3964,-0.507),(0.4003,-0.513),(0.4054,-0.524),(0.4116,-0.536),(0.4172,-0.547),(0.4235,-0.558),
(0.4291,-0.569),(0.4353,-0.581),(0.4410,-0.591),(0.4472,-0.603),(0.4528,-0.613),(0.4591,-0.625),(0.4647,-0.635),
(0.4710,-0.647),(0.4766,-0.657),(0.4829,-0.668),(0.4885,-0.678),(0.4948,-0.690),(0.5004,-0.699),(0.5073,-0.712),
(0.5142,-0.723),(0.5211,-0.736),(0.5280,-0.747),(0.5349,-0.760),(0.5418,-0.771),(0.5487,-0.784),(0.5556,-0.795),
(0.5625,-0.808),(0.5694,-0.819),(0.5763,-0.832),(0.5832,-0.843),(0.5901,-0.855),(0.5970,-0.866),(0.6039,-0.878),
(0.6108,-0.889),(0.6177,-0.901),(0.6246,-0.912),(0.6315,-0.924),(0.6384,-0.935),(0.6453,-0.947),(0.6522,-0.958),
(0.6591,-0.970),(0.6660,-0.981),(0.6729,-0.993),(0.6798,-1.004),(0.6867,-1.016),(0.6936,-1.027),(0.7005,-1.040),
(0.7074,-1.051),(0.7143,-1.064),(0.7212,-1.075),(0.7281,-1.088),(0.7350,-1.100),(0.7419,-1.113),(0.7488,-1.124),
(0.7557,-1.137),(0.7626,-1.149),(0.7695,-1.162),(0.7764,-1.174),(0.7833,-1.187),(0.7902,-1.199),(0.7971,-1.212),
(0.8040,-1.223),(0.8109,-1.235),(0.8178,-1.243),(0.8260,-1.250),
]
OCX_SPREAD = [
(-0.1172,0.690),(-0.0955,0.618),(-0.0730,0.540),(-0.0500,0.458),(-0.0282,0.389),(-0.0048,0.316),(0.0170,0.254),
(0.0402,0.193),(0.0620,0.142),(0.0850,0.094),(0.1068,0.054),(0.1298,0.012),(0.1515,-0.028),(0.1745,-0.075),
(0.1963,-0.119),(0.2192,-0.168),(0.2410,-0.212),(0.2640,-0.260),(0.2858,-0.303),(0.3087,-0.350),(0.3305,-0.392),
(0.3535,-0.439),(0.3753,-0.481),(0.3982,-0.528),
(-0.0860,0.612),(-0.0410,0.455),(0.0045,0.318),(0.0490,0.205),(0.0940,0.110),(0.1390,0.030),(0.1835,-0.060),
(0.2280,-0.148),(0.2730,-0.240),(0.3180,-0.330),(0.3630,-0.422),
]

CI_LEFT = [
(-0.2235,0.265),(-0.2140,0.118),(-0.2035,-0.004),(-0.2200,-0.184),(-0.2030,-0.168),(-0.1950,-0.157),(-0.1920,-0.148),
(-0.1800,-0.130),(-0.1620,-0.150),(-0.1570,-0.210),(-0.1520,0.005),(-0.1380,0.005),(-0.1320,0.088),(-0.1480,-0.120),
(-0.1430,-0.097),(-0.1500,-0.230),(-0.1450,-0.180),(-0.1180,-0.064),(-0.1040,-0.078),(-0.1180,-0.106),(-0.1170,-0.270),
(-0.1100,-0.175),(-0.1000,-0.190),(-0.0950,-0.166),(-0.0900,-0.215),(-0.0810,-0.184),(-0.0760,-0.205),(-0.0710,-0.138),
(-0.0660,-0.230),(-0.0600,-0.272),(-0.0570,-0.101),(-0.0530,-0.190),(-0.0470,-0.215),(-0.0420,-0.165),(-0.0370,-0.078),
(-0.0330,-0.145),(-0.0290,-0.200),(-0.0240,-0.245),(-0.0200,-0.305),(-0.0150,0.012),(-0.0130,-0.175),(-0.0090,-0.222),
(-0.0050,-0.268),(-0.0020,-0.088),(0.0000,-0.320),(0.0030,-0.195),(0.0060,-0.240),(0.0090,-0.124),(0.0110,-0.280),
(0.0140,-0.168),(0.0170,-0.225),(0.0200,-0.262),(0.0240,-0.166),(0.0260,-0.205),
]
CI_BAND = [
(0.030,-0.200),(0.034,-0.246),(0.032,-0.292),(0.040,-0.210),(0.044,-0.250),(0.042,-0.300),(0.050,-0.222),(0.054,-0.262),
(0.052,-0.318),(0.060,-0.225),(0.064,-0.270),(0.062,-0.312),(0.070,-0.236),(0.074,-0.276),(0.072,-0.330),(0.080,-0.232),
(0.084,-0.286),(0.082,-0.328),(0.090,-0.250),(0.094,-0.290),(0.092,-0.345),(0.100,-0.248),(0.104,-0.302),(0.102,-0.345),
(0.110,-0.262),(0.114,-0.306),(0.112,-0.360),(0.120,-0.262),(0.124,-0.314),(0.122,-0.355),(0.130,-0.275),(0.134,-0.318),
(0.132,-0.372),(0.140,-0.272),(0.144,-0.326),(0.142,-0.368),(0.150,-0.288),(0.154,-0.330),(0.152,-0.385),(0.160,-0.285),
(0.164,-0.338),(0.162,-0.380),(0.170,-0.302),(0.174,-0.344),(0.172,-0.398),(0.180,-0.298),(0.184,-0.352),(0.182,-0.395),
(0.190,-0.315),(0.194,-0.358),(0.192,-0.412),(0.200,-0.312),(0.204,-0.366),(0.202,-0.410),(0.210,-0.330),(0.214,-0.374),
(0.212,-0.428),(0.220,-0.330),(0.224,-0.384),(0.222,-0.428),(0.230,-0.348),(0.234,-0.392),(0.232,-0.446),(0.240,-0.350),
(0.244,-0.402),(0.242,-0.445),(0.250,-0.368),(0.254,-0.410),(0.252,-0.463),(0.260,-0.385),(0.264,-0.420),(0.262,-0.468),
(0.270,-0.400),(0.274,-0.430),(0.272,-0.480),(0.280,-0.415),(0.284,-0.440),(0.282,-0.488),(0.290,-0.428),(0.294,-0.450),
(0.292,-0.500),(0.300,-0.438),(0.304,-0.460),(0.302,-0.508),(0.310,-0.445),(0.314,-0.470),(0.312,-0.520),(0.320,-0.445),
(0.324,-0.480),(0.322,-0.528),(0.330,-0.450),(0.334,-0.490),(0.332,-0.540),(0.340,-0.455),(0.344,-0.500),(0.342,-0.548),
(0.350,-0.465),(0.354,-0.510),(0.352,-0.560),(0.360,-0.475),(0.364,-0.521),(0.362,-0.570),(0.370,-0.487),(0.374,-0.532),
(0.372,-0.582),(0.380,-0.497),(0.384,-0.543),(0.382,-0.595),(0.390,-0.510),(0.394,-0.554),(0.392,-0.604),(0.400,-0.518),
(0.404,-0.565),(0.402,-0.618),(0.410,-0.532),(0.414,-0.577),(0.412,-0.628),(0.420,-0.540),(0.424,-0.589),(0.422,-0.642),
(0.430,-0.556),(0.434,-0.601),(0.432,-0.650),(0.440,-0.565),(0.444,-0.613),(0.442,-0.665),(0.450,-0.580),(0.454,-0.625),
(0.452,-0.672),(0.460,-0.590),(0.464,-0.637),(0.462,-0.688),(0.470,-0.604),(0.474,-0.649),(0.472,-0.696),(0.480,-0.612),
(0.484,-0.661),(0.482,-0.712),(0.490,-0.628),(0.494,-0.673),(0.492,-0.720),(0.500,-0.636),(0.504,-0.685),(0.502,-0.738),
(0.510,-0.652),(0.514,-0.697),(0.512,-0.744),(0.520,-0.660),(0.524,-0.709),(0.522,-0.762),(0.530,-0.676),(0.534,-0.721),
(0.532,-0.768),(0.540,-0.684),(0.544,-0.733),(0.542,-0.786),(0.550,-0.700),(0.554,-0.745),(0.552,-0.792),(0.560,-0.708),
(0.564,-0.758),(0.562,-0.810),(0.570,-0.726),(0.574,-0.771),(0.572,-0.818),(0.580,-0.735),(0.584,-0.784),(0.582,-0.838),
(0.590,-0.752),(0.594,-0.797),(0.592,-0.845),(0.600,-0.760),(0.604,-0.810),(0.602,-0.862),(0.610,-0.777),(0.614,-0.822),
(0.612,-0.870),(0.620,-0.785),(0.624,-0.834),(0.622,-0.886),(0.630,-0.801),(0.634,-0.846),(0.632,-0.893),(0.640,-0.808),
(0.644,-0.858),(0.642,-0.910),(0.650,-0.825),(0.654,-0.870),(0.652,-0.918),(0.660,-0.834),(0.664,-0.884),(0.662,-0.936),
(0.670,-0.853),(0.674,-0.898),(0.672,-0.946),(0.680,-0.862),(0.684,-0.912),(0.682,-0.964),(0.690,-0.881),(0.694,-0.926),
(0.692,-0.974),(0.700,-0.890),(0.704,-0.940),(0.702,-0.992),(0.710,-0.907),(0.714,-0.952),(0.712,-1.000),(0.720,-0.914),
(0.724,-0.964),(0.722,-1.016),(0.730,-0.931),(0.734,-0.976),(0.732,-1.024),(0.740,-0.938),(0.744,-0.988),(0.742,-1.040),
(0.750,-0.955),(0.754,-1.000),(0.752,-1.048),(0.760,-0.962),(0.764,-1.012),(0.762,-1.064),(0.770,-0.979),(0.774,-1.024),
(0.772,-1.072),(0.780,-0.986),(0.784,-1.036),(0.782,-1.088),(0.790,-1.003),(0.794,-1.048),(0.792,-1.096),(0.800,-1.010),
(0.804,-1.060),(0.802,-1.112),(0.810,-1.025),(0.814,-1.070),(0.812,-1.118),(0.820,-1.032),(0.824,-1.080),(0.822,-1.130),
(0.826,-1.045),(0.829,-1.090),(0.828,-1.122),
]
CI_LOW = [
(0.552,-0.775),(0.561,-0.800),(0.569,-0.805),(0.578,-0.830),(0.586,-0.835),(0.595,-0.860),(0.603,-0.865),(0.612,-0.888),
(0.620,-0.893),(0.629,-0.915),(0.637,-0.920),(0.646,-0.943),(0.654,-0.948),(0.663,-0.970),(0.671,-0.978),(0.680,-1.000),
(0.688,-1.005),(0.697,-1.027),(0.705,-1.032),(0.714,-1.055),(0.722,-1.060),(0.731,-1.080),(0.739,-1.088),(0.748,-1.105),
(0.756,-1.112),(0.765,-1.128),(0.773,-1.140),
]
CI_OUTLIERS = [
(0.174,-0.180),(0.147,-0.238),(0.067,-0.180),(0.459,-0.812),(0.470,-0.752),(0.487,-0.788),(0.504,-0.800),(0.532,-0.871),
(0.575,-0.918),(0.597,-0.942),(0.610,-1.037),(0.619,-1.000),(0.651,-1.043),(0.663,-1.099),(0.680,-1.055),(0.710,-1.110),
(0.761,-1.173),(0.805,-1.122),(0.819,-1.090),(0.827,-1.122),
]

CALCOFI2 = [
(-0.2150,-1.050),(-0.2078,-1.080),(-0.2005,-1.098),(-0.1968,-1.114),(-0.1785,-1.168),(-0.1638,-1.244),(-0.1598,-1.266),
(-0.1552,-1.278),(-0.1520,-1.300),(-0.1478,-1.308),(-0.1445,-1.330),(-0.1402,-1.340),(-0.1372,-1.364),(-0.1328,-1.376),
(-0.1295,-1.400),(-0.1250,-1.411),(-0.1220,-1.434),(-0.1175,-1.445),(-0.1145,-1.468),(-0.1100,-1.480),(-0.1068,-1.503),
(-0.1022,-1.515),(-0.0992,-1.540),(-0.0948,-1.550),(-0.0918,-1.575),(-0.0872,-1.586),(-0.0842,-1.611),(-0.0798,-1.621),
(-0.0768,-1.646),(-0.0722,-1.657),(-0.0692,-1.682),(-0.0648,-1.694),(-0.0618,-1.719),(-0.0572,-1.730),(-0.0542,-1.755),
(-0.0498,-1.767),(-0.0468,-1.793),(-0.0422,-1.805),(-0.0392,-1.831),(-0.0348,-1.843),(-0.0318,-1.870),(-0.0272,-1.883),
(-0.0242,-1.910),(-0.0198,-1.922),(-0.0168,-1.950),(-0.0122,-1.963),(-0.0092,-1.992),(-0.0048,-2.005),(-0.0018,-2.034),
(0.0028,-2.047),(0.0058,-2.077),(0.0102,-2.091),(0.0132,-2.121),(0.0178,-2.135),(0.0208,-2.165),(0.0252,-2.180),
(0.0282,-2.210),(0.0328,-2.225),(0.0358,-2.256),(0.0402,-2.271),(0.0432,-2.302),(0.0478,-2.317),(0.0508,-2.348),
(0.0552,-2.363),(0.0582,-2.394),(0.0628,-2.409),(0.0658,-2.440),(0.0702,-2.455),(0.0732,-2.485),(0.0772,-2.498),
(0.0800,-2.515),(0.0842,-2.528),(0.0850,-2.520),
(-0.1540,-1.250),(-0.1460,-1.290),(-0.1385,-1.326),(-0.1310,-1.362),(-0.1235,-1.398),(-0.1160,-1.434),(-0.1085,-1.470),
(-0.1010,-1.506),(-0.0935,-1.542),(-0.0860,-1.578),(-0.0785,-1.613),(-0.0710,-1.650),(-0.0635,-1.686),(-0.0560,-1.722),
(-0.0485,-1.760),(-0.0410,-1.797),(-0.0335,-1.835),(-0.0260,-1.874),(-0.0185,-1.913),(-0.0110,-1.953),(-0.0035,-1.993),
(0.0040,-2.034),(0.0115,-2.076),(0.0190,-2.118),(0.0265,-2.160),(0.0340,-2.204),(0.0415,-2.248),(0.0490,-2.292),
(0.0565,-2.336),(0.0640,-2.380),(0.0715,-2.424),(0.0790,-2.468),(0.0860,-2.505),
]

INSITU = INSITU_LEFT + INSITU_UPPER + INSITU_RIGHT + INSITU_LOWER + INSITU_CORE + INSITU_CORE2 + INSITU_CORE3
OCX_ALL = OCX + OCX_SPREAD
CI = CI_LEFT + CI_BAND + CI_LOW + CI_OUTLIERS


def cols(pts):
    return [p[0] for p in pts], [p[1] for p in pts]


# ---------------- styles ----------------
FONT = "Liberation Serif"
GRAY = "#a0a0a0"
W, H = 2855, 2833
M_L, M_R, M_T, M_B = 401, 36, 67, 346

STYLE_INSITU = dict(symbol="circle", size=14, color=GRAY, line=dict(width=0))
STYLE_CI = dict(symbol="circle", size=32, color="black", line=dict(width=0))
STYLE_CAL = dict(symbol="triangle-up-open", size=31, color="black", line=dict(width=3, color="black"))
ASTER_SIZE, ASTER_W = 28, 6

fig = go.Figure()

fx, fy = cols(INSITU)
fig.add_trace(go.Scatter(x=fx, y=fy, mode="markers", name=SERIES_NAMES[0], marker=STYLE_INSITU,
                         showlegend=False, hoverinfo="skip"))
cx, cy = cols(CALCOFI2)
fig.add_trace(go.Scatter(x=cx, y=cy, mode="markers", name=SERIES_NAMES[3], marker=STYLE_CAL,
                         showlegend=False, hoverinfo="skip"))
ox, oy = cols(OCX_ALL)
for sym in ("y-up", "y-down"):
    fig.add_trace(go.Scatter(x=ox, y=oy, mode="markers", name=SERIES_NAMES[1],
                             marker=dict(symbol=sym, size=ASTER_SIZE, color="black",
                                         line=dict(width=ASTER_W, color="black")),
                             showlegend=False, hoverinfo="skip"))
ix, iy = cols(CI)
fig.add_trace(go.Scatter(x=ix, y=iy, mode="markers", name=SERIES_NAMES[2], marker=STYLE_CI,
                         showlegend=False, hoverinfo="skip"))

# ---------------- legend (drawn in its own small frame) ----------------
LEG_DOM_X = [0.7186, 0.9973]
LEG_DOM_Y = [0.8017, 0.9975]
LEG_SYM_X = 0.1024
LEG_TXT_X = 0.2092
LEG_ROWS = [0.866, 0.645, 0.434, 0.217]
leg_markers = [
    [dict(symbol="circle", size=26, color=GRAY, line=dict(width=0))],
    [dict(symbol="y-up", size=28, color="black", line=dict(width=6.5, color="black")),
     dict(symbol="y-down", size=28, color="black", line=dict(width=6.5, color="black"))],
    [dict(symbol="circle", size=46, color="black", line=dict(width=0))],
    [dict(symbol="triangle-up-open", size=48, color="black", line=dict(width=3.5, color="black"))],
]
for row_y, mks in zip(LEG_ROWS, leg_markers):
    for mk in mks:
        fig.add_trace(go.Scatter(x=[LEG_SYM_X], y=[row_y], xaxis="x2", yaxis="y2", mode="markers",
                                 marker=mk, showlegend=False, hoverinfo="skip"))

annotations = []
for name, row_y in zip(SERIES_NAMES, LEG_ROWS):
    annotations.append(dict(text=name, x=LEG_TXT_X, y=row_y, xref="x2", yref="y2", xanchor="left",
                            yanchor="middle", showarrow=False, font=dict(family=FONT, size=56, color="black")))

annotations.append(dict(text=Y_TITLE, x=-0.1329, y=0.5153, xref="paper", yref="paper", textangle=-90,
                        xanchor="center", yanchor="middle", showarrow=False,
                        font=dict(family=FONT, size=84, color="black")))
annotations.append(dict(text=X_TITLE, x=0.469, y=-0.111, xref="paper", yref="paper",
                        xanchor="center", yanchor="middle", showarrow=False,
                        font=dict(family=FONT, size=90, color="black")))

shapes = [
    dict(type="rect", xref="paper", yref="paper", x0=0, x1=1, y0=0, y1=1,
         line=dict(color="black", width=5), layer="above"),
    dict(type="rect", xref="paper", yref="paper", x0=LEG_DOM_X[0], x1=LEG_DOM_X[1],
         y0=LEG_DOM_Y[0], y1=LEG_DOM_Y[1], line=dict(color="black", width=6), layer="above"),
]

fig.update_layout(
    width=W, height=H,
    margin=dict(l=M_L, r=M_R, t=M_T, b=M_B),
    paper_bgcolor="white", plot_bgcolor="white",
    showlegend=False,
    font=dict(family=FONT, color="black"),
    annotations=annotations,
    shapes=shapes,
    xaxis=dict(
        range=X_RANGE, tickmode="array", tickvals=X_TICKS, ticktext=X_TICK_TEXT,
        ticks="outside", ticklen=75, tickwidth=5, tickcolor="black",
        tickfont=dict(family=FONT, size=88, color="black"), ticklabelstandoff=-6,
        showline=True, linewidth=11, linecolor="black", mirror=False,
        showgrid=False, zeroline=True, zerolinecolor="#8a8a8a", zerolinewidth=2,
        minor=dict(tickmode="array", tickvals=X_MINOR, ticks="outside", ticklen=37,
                   tickwidth=5, tickcolor="black", showgrid=False),
    ),
    yaxis=dict(
        range=Y_RANGE, tickmode="array", tickvals=Y_TICKS, ticktext=Y_TICK_TEXT,
        ticks="outside", ticklen=80, tickwidth=5, tickcolor="black",
        tickfont=dict(family=FONT, size=76, color="black"), ticklabelstandoff=36,
        showline=True, linewidth=8, linecolor="black", mirror=False,
        showgrid=False, zeroline=True, zerolinecolor="#8a8a8a", zerolinewidth=2,
        minor=dict(tickmode="array", tickvals=Y_MINOR, ticks="outside", ticklen=42,
                   tickwidth=5, tickcolor="black", showgrid=False),
    ),
    xaxis2=dict(domain=LEG_DOM_X, anchor="y2", range=[0, 1], visible=False, fixedrange=True),
    yaxis2=dict(domain=LEG_DOM_Y, anchor="x2", range=[0, 1], visible=False, fixedrange=True),
)

fig.write_html("out.html")
